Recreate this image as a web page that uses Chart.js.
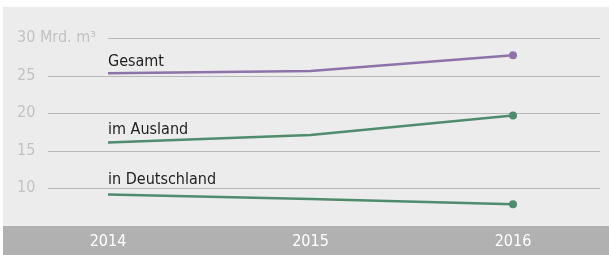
<!DOCTYPE html>
<html><head><meta charset="utf-8">
<script src="https://cdn.jsdelivr.net/npm/chart.js@4"></script>
<style>html,body{margin:0;padding:0;background:#fff}#wrap{width:609px;height:255px}</style>
</head><body><div id="wrap"><canvas id="c" width="609" height="255"></canvas></div>
<script>
const years = [2014, 2015, 2016];
const gesamt = [25.3, 25.6, 27.7];
const ausland = [16.1, 17.1, 19.7];
const deutschland = [9.2, 8.6, 7.9];
const yTicks = [10, 15, 20, 25, 30];
const unitLabel = "30 Mrd. m³";
const seriesNames = ["Gesamt", "im Ausland", "in Deutschland"];

const FONT = '"Liberation Sans Narrow","DejaVu Sans Condensed",sans-serif';
const purple = '#8d73a9', green = '#4f8b6f';

const toPts = arr => arr.map((v,i)=>({x:years[i], y:v}));

const deco = {
  id:'deco',
  beforeDraw(chart){
    const ctx = chart.ctx, ys = chart.scales.y, xs = chart.scales.x, ca = chart.chartArea;
    ctx.save();
    ctx.fillStyle = '#ececec';
    ctx.fillRect(3, 7, 606, 219);
    ctx.fillStyle = '#b1b1b1';
    ctx.fillRect(3, 226, 606, 29);
    // gridlines & tick labels
    ctx.font = '16px ' + FONT;
    ctx.textBaseline = 'middle';
    ctx.textAlign = 'left';
    yTicks.forEach(t=>{
      const py = Math.round(ys.getPixelForValue(t)) + 0.5;
      const label = t === 30 ? unitLabel : String(t);
      ctx.fillStyle = '#c2c2c2';
      ctx.fillText(label, 17, py - 1);
      const start = t === 30 ? 108 : ca.left;
      ctx.strokeStyle = '#b7b7b7';
      ctx.lineWidth = 1;
      ctx.beginPath(); ctx.moveTo(start, py); ctx.lineTo(ca.right, py); ctx.stroke();
    });
    // x labels
    ctx.fillStyle = '#ffffff';
    ctx.textAlign = 'center';
    ctx.font = '16px ' + FONT;
    years.forEach(yr=>{
      ctx.fillText(String(yr), xs.getPixelForValue(yr), 242);
    });
    ctx.restore();
  },
  afterDatasetsDraw(chart){
    const ctx = chart.ctx, ys = chart.scales.y, xs = chart.scales.x;
    ctx.save();
    ctx.font = '16px ' + FONT;
    ctx.fillStyle = '#222';
    ctx.textAlign = 'left';
    ctx.textBaseline = 'alphabetic';
    const firsts = [gesamt[0], ausland[0], deutschland[0]];
    const offs = [7, 9, 10];
    seriesNames.forEach((n,i)=>{
      const px = xs.getPixelForValue(years[0]);
      const py = ys.getPixelForValue(firsts[i]);
      ctx.fillText(n, px, py - offs[i]);
    });
    ctx.restore();
  }
};

new Chart(document.getElementById('c'), {
  type:'line',
  data:{datasets:[
    {data:toPts(gesamt), borderColor:purple, backgroundColor:purple},
    {data:toPts(ausland), borderColor:green, backgroundColor:green},
    {data:toPts(deutschland), borderColor:green, backgroundColor:green}
  ]},
  options:{
    responsive:false, animation:false,
    layout:{padding:{left:48, right:9, top:38, bottom:29}},
    elements:{line:{borderWidth:2.5, tension:0}, point:{radius:[0,0,4], hoverRadius:0, borderWidth:0}},
    plugins:{legend:{display:false}, tooltip:{enabled:false}},
    scales:{
      x:{type:'linear', min:2013.7037, max:2016.4296, display:false},
      y:{min:5, max:30, display:false}
    }
  },
  plugins:[deco]
});
</script></body></html>
